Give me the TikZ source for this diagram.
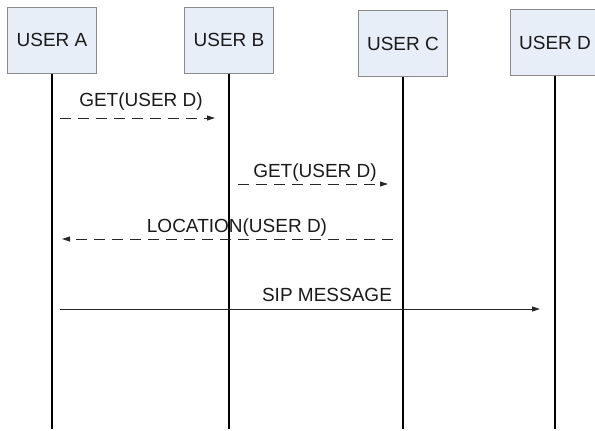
\documentclass[tikz,border=0pt]{standalone}
\usepackage{fontspec}
\setmainfont{Liberation Sans}
\usetikzlibrary{arrows.meta}
\definecolor{boxfill}{HTML}{E8EEF8}
\definecolor{boxline}{HTML}{8A8A8A}
\definecolor{ink}{HTML}{1A1A1A}
\tikzset{
  actor/.style={draw=boxline, line width=1pt, fill=boxfill, minimum width=89pt,
    minimum height=66pt, inner sep=0pt, text=ink,
    font=\fontsize{19}{21}\selectfont},
  lifeline/.style={draw=black, line width=1.4pt},
  msg/.style={draw=black!85, line width=0.9pt,
    -{Triangle[length=8pt,width=5pt]}},
  dashmsg/.style={msg, dash pattern=on 11pt off 7pt},
  msglabel/.style={inner sep=0pt, text=ink, font=\fontsize{19}{21}\selectfont}
}
\begin{document}
\begin{tikzpicture}[x=1pt, y=-1pt]
  \useasboundingbox (0,0) rectangle (595,431);

  % participants
  \node[actor] (A) at (52,40)    {USER A};
  \node[actor] (B) at (229,40)   {USER B};
  \node[actor] (C) at (403,43.5) {USER C};
  \node[actor] (D) at (555,42.5) {USER D};

  % lifelines
  \coordinate (bottom) at (0,429);
  \draw[lifeline] (A.south) -- (A |- bottom);
  \draw[lifeline] (B.south) -- (B |- bottom);
  \draw[lifeline] (C.south) -- (C |- bottom);
  \draw[lifeline] (D.south) -- (D |- bottom);

  % message end points
  \coordinate (m1s) at (60,118);  \coordinate (m1e) at (215,118);
  \coordinate (m2s) at (238,184); \coordinate (m2e) at (388,184);
  \coordinate (m3s) at (393,239); \coordinate (m3e) at (62,239);
  \coordinate (m4s) at (60,309);  \coordinate (m4e) at (540,309);

  % messages
  \draw[dashmsg] (m1s) -- (m1e);
  \node[msglabel] (l1) at (141,102) {GET(USER D)};

  \draw[dashmsg] (m2s) -- (m2e);
  \node[msglabel] (l2) at (315,173) {GET(USER D)};

  \draw[dashmsg] (m3s) -- (m3e);
  \node[msglabel] (l3) at (237,228) {LOCATION(USER D)};

  \draw[msg] (m4s) -- (m4e);
  \node[msglabel] (l4) at (327,295) {SIP MESSAGE};
\end{tikzpicture}
\end{document}
